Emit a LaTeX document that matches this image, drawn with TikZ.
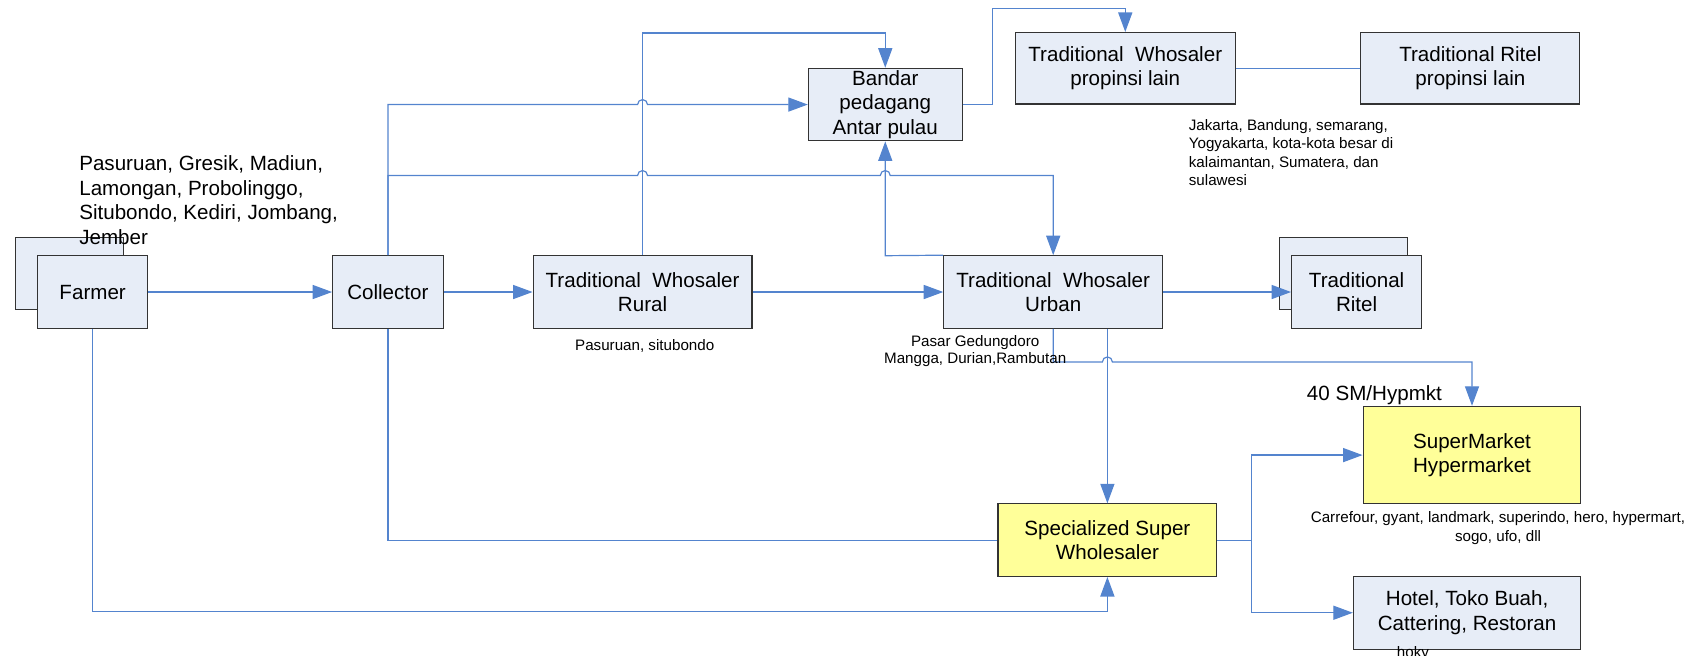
\documentclass[tikz,border=0pt]{standalone}
\usepackage{fontspec}
\setmainfont{Liberation Sans}
\usetikzlibrary{arrows.meta}
\definecolor{boxfill}{RGB}{231,237,247}
\definecolor{yellowfill}{RGB}{255,255,153}
\definecolor{linkblue}{RGB}{84,132,206}
\newcommand{\dgbig}{\fontsize{19}{22.5}\selectfont}
\newcommand{\dgsmall}{\fontsize{14}{17}\selectfont}
\begin{document}
\begin{tikzpicture}[x=1pt,y=-1pt,
  box/.style={draw=black!80, line width=1pt, fill=boxfill, inner sep=0pt, align=center, font=\dgbig},
  ybox/.style={box, fill=yellowfill},
  conn/.style={draw=linkblue, line width=1.1pt},
  arr/.style={conn, -{Triangle[length=18pt,width=13pt]}},
  big/.style={inner sep=0pt, font=\dgbig},
  small/.style={inner sep=0pt, font=\dgsmall}]
\useasboundingbox (0,0) rectangle (1568,605);

% boxes
\node[box, minimum width=100pt, minimum height=67pt] (farmerback) at (64,252.5) {};
\node[box, minimum width=101pt, minimum height=67pt] (farmer) at (85.5,269.5) {Farmer};
\node[box, minimum width=102pt, minimum height=67pt] (collector) at (358,269.5) {Collector};
\node[box, minimum width=202pt, minimum height=67pt] (rural) at (593,269.5) {Traditional\ \ Whosaler\\Rural};
\node[box, minimum width=142pt, minimum height=67pt] (bandar) at (817,96.5) {Bandar\\pedagang\\Antar pulau};
\node[box, minimum width=202pt, minimum height=67pt] (urban) at (972,269.5) {Traditional\ \ Whosaler\\Urban};
\node[box, minimum width=203pt, minimum height=66pt] (whprop) at (1038.5,63) {Traditional\ \ Whosaler\\propinsi lain};
\node[box, minimum width=202pt, minimum height=66pt] (ritelprop) at (1357,63) {Traditional Ritel\\propinsi lain};
\node[box, minimum width=118pt, minimum height=67pt] (ritelback) at (1240,252.5) {};
\node[box, minimum width=120pt, minimum height=67pt] (ritel) at (1252,269.5) {Traditional\\Ritel};
\node[ybox, minimum width=201pt, minimum height=90pt] (super) at (1358.5,420) {SuperMarket\\Hypermarket};
\node[ybox, minimum width=202pt, minimum height=67pt] (special) at (1022,498.5) {Specialized Super\\Wholesaler};
\node[box, minimum width=210pt, minimum height=67pt] (hotel) at (1354,565.5) {Hotel, Toko Buah,\\Cattering, Restoran};

% connectors
\draw[arr] (farmer.east) -- (collector.west);
\draw[arr] (collector.east) -- (rural.west);
\draw[arr] (rural.east) -- (urban.west);
\draw[arr] (urban.east) -- (ritel.west);
\draw[arr] (collector.north) -- (358,96.5) -- (588.4,96.5)
  arc[start angle=180,end angle=0,radius=4.6pt] -- (bandar.west);
\draw[arr] (collector.north) -- (358,162) -- (588.4,162)
  arc[start angle=180,end angle=0,radius=4.6pt] -- (812.4,162)
  arc[start angle=180,end angle=0,radius=4.6pt] -- (972,162) -- (urban.north);
\draw[arr] (rural.north) -- (593,30.5) -- (817,30.5) -- (bandar.north);
\draw[arr] (urban.north west) -- (817,236) -- (bandar.south);
\draw[arr] (bandar.east) -- (916,96.5) -- (916,7.5) -- (1038.5,7.5) -- (whprop.north);
\draw[conn] (whprop.east) -- (ritelprop.west);
\draw[arr] (urban.south) -- (972,334) -- (1017.4,334)
  arc[start angle=180,end angle=0,radius=4.6pt] -- (1358.5,334) -- (super.north);
\draw[arr] (special.north |- urban.south) -- (special.north);
\draw[conn] (collector.south) -- (358,498.5) -- (special.west);
\draw[arr] (farmer.south) -- (85.5,564) -- (1022,564) -- (special.south);
\draw[arr] (special.east) -- (1155,498.5) -- (1155,420) -- (super.west);
\draw[arr] (special.east) -- (1155,498.5) -- (1155,565.5) -- (hotel.west);

% labels
\node[big, anchor=north west, align=left, font=\fontsize{19}{23}\selectfont] (lblfarmer) at (73,143)
  {Pasuruan, Gresik, Madiun,\\Lamongan, Probolinggo,\\Situbondo, Kediri, Jombang,\\Jember};
\node[small] (lblrural) at (595,319) {Pasuruan, situbondo};
\node[small, anchor=north west, align=left] (lbljkt) at (1097,110)
  {Jakarta, Bandung, semarang,\\Yogyakarta, kota-kota besar di\\kalaimantan, Sumatera, dan\\sulawesi};
\node[small, align=center, font=\fontsize{14}{16.5}\selectfont] (lblurban) at (900,324)
  {Pasar Gedungdoro\\Mangga, Durian,Rambutan};
\node[big] (lblsm) at (1268.5,364.5) {40 SM/Hypmkt};
\node[small, align=center] (lblsuper) at (1382.5,487.5)
  {Carrefour, gyant, landmark, superindo, hero, hypermart,\\sogo, ufo, dll};
\node[small, anchor=base] (lblhoky) at (1304,607) {hoky};
\end{tikzpicture}
\end{document}
